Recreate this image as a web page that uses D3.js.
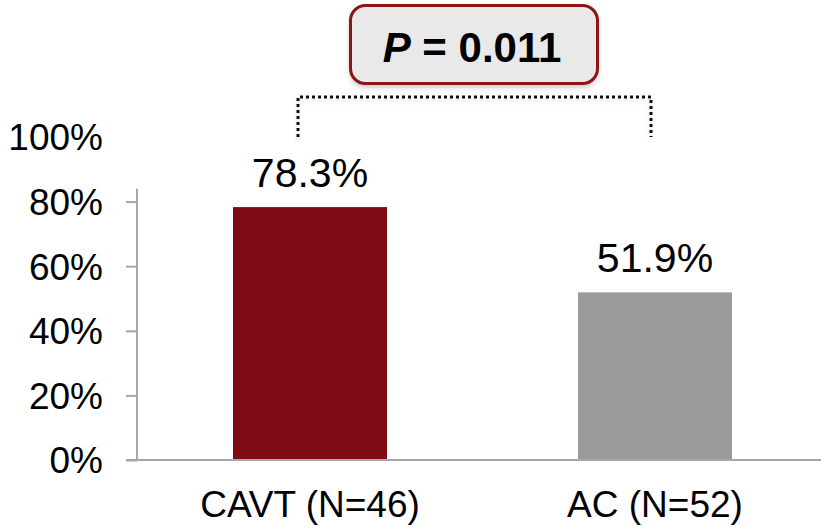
<!DOCTYPE html>
<html>
<head>
<meta charset="utf-8">
<script src="https://cdn.jsdelivr.net/npm/d3@7"></script>
<style>
  html, body { margin: 0; padding: 0; background: #fff; }
  svg { display: block; font-family: "Liberation Sans", Arial, sans-serif; }
</style>
</head>
<body>
<svg id="chart" width="821" height="527"></svg>
<script>
// Chart data
const categories = ["CAVT (N=46)", "AC (N=52)"];
const values = [78.3, 51.9];
const valueLabels = ["78.3%", "51.9%"];
const barColors = ["#7f0b14", "#9a9a9c"];
const tickValues = [0, 20, 40, 60, 80, 100];
const tickLabels = ["0%", "20%", "40%", "60%", "80%", "100%"];
const pLabel = { italic: "P", rest: " = 0.011" };

const svg = d3.select("#chart");

const y = d3.scaleLinear().domain([0, 100]).range([460, 137]);
const x = d3.scaleBand()
  .domain(categories)
  .range([137.5, 827.5])
  .paddingInner(0.5536)
  .paddingOuter(0.2768)
  .align(0.5);

// Shadow filter for the bracket and the label box
const defs = svg.append("defs");
const sh = defs.append("filter").attr("id", "soft").attr("x", "-10%").attr("y", "-50%")
  .attr("width", "120%").attr("height", "200%");
sh.append("feDropShadow").attr("dx", 0).attr("dy", 3).attr("stdDeviation", 2)
  .attr("flood-color", "#000").attr("flood-opacity", 0.18);

// Y axis
const yAxis = d3.axisLeft(y)
  .tickValues(tickValues)
  .tickFormat((d, i) => tickLabels[i])
  .tickSize(11)
  .tickPadding(23);

const gy = svg.append("g").attr("transform", "translate(137,0)").call(yAxis);
gy.select(".domain").remove();
gy.selectAll(".tick line")
  .attr("stroke", "#a6a6a6")
  .attr("stroke-width", 2)
  .filter(d => d === 100).remove();
gy.selectAll(".tick text")
  .attr("fill", "#000")
  .style("font-size", "37px")
  .attr("dy", "0.35em");
gy.append("line")
  .attr("x1", 0).attr("x2", 0)
  .attr("y1", y(0)).attr("y2", y(84))
  .attr("stroke", "#a6a6a6").attr("stroke-width", 2);

// Bars
svg.append("g").selectAll("rect")
  .data(categories)
  .join("rect")
  .attr("x", d => x(d))
  .attr("width", x.bandwidth())
  .attr("y", (d, i) => y(values[i]))
  .attr("height", (d, i) => y(0) - y(values[i]))
  .attr("fill", (d, i) => barColors[i]);

// Baseline
svg.append("line")
  .attr("x1", 126).attr("x2", 821)
  .attr("y1", y(0)).attr("y2", y(0))
  .attr("stroke", "#a6a6a6").attr("stroke-width", 2);

// Value labels
svg.append("g").selectAll("text")
  .data(categories)
  .join("text")
  .attr("x", d => x(d) + x.bandwidth() / 2)
  .attr("y", (d, i) => y(values[i]) - 20)
  .attr("text-anchor", "middle")
  .style("font-size", "41px")
  .attr("fill", "#000")
  .text((d, i) => valueLabels[i]);

// Category labels
svg.append("g").selectAll("text")
  .data(categories)
  .join("text")
  .attr("x", d => x(d) + x.bandwidth() / 2)
  .attr("y", 517)
  .attr("text-anchor", "middle")
  .style("font-size", "37px")
  .attr("fill", "#000")
  .text(d => d);

// Significance bracket
const bx1 = 298, bx2 = 651, by = 97, bBottom = 137;
svg.append("path")
  .attr("d", `M${bx1},${bBottom} V${by} H${bx2} V${bBottom}`)
  .attr("fill", "none")
  .attr("stroke", "#111")
  .attr("stroke-width", 3)
  .attr("stroke-dasharray", "3 3")
  .attr("filter", "url(#soft)");

// P-value box
svg.append("rect")
  .attr("x", 350.5).attr("y", 5.5)
  .attr("width", 247).attr("height", 78)
  .attr("rx", 15).attr("ry", 15)
  .attr("fill", "#e9e9e9")
  .attr("stroke", "#8a1219")
  .attr("stroke-width", 3)
  .attr("filter", "url(#soft)");

const pt = svg.append("text")
  .attr("x", 472).attr("y", 62)
  .attr("text-anchor", "middle")
  .style("font-size", "42px")
  .style("font-weight", "bold")
  .attr("fill", "#000");
pt.append("tspan").style("font-style", "italic").text(pLabel.italic);
pt.append("tspan").text(pLabel.rest);
</script>
</body>
</html>
